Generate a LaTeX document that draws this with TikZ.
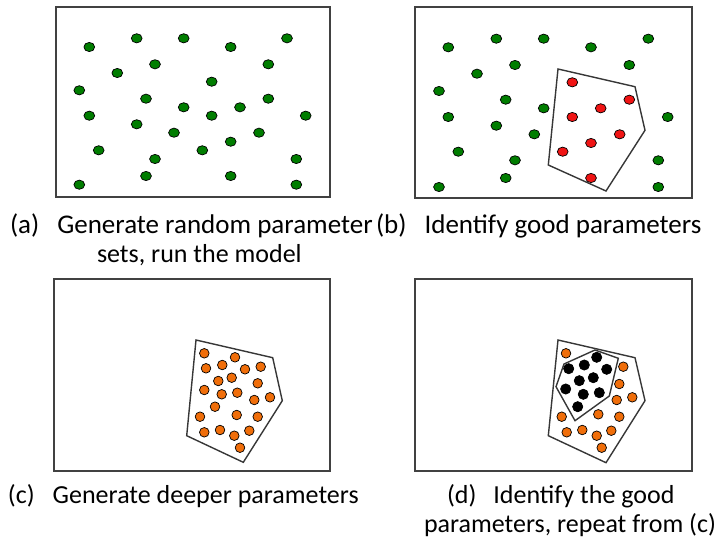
\documentclass[tikz,border=0pt]{standalone}
\usepackage{fontspec}
\setmainfont{Carlito}
\definecolor{gfill}{RGB}{0,125,0}
\definecolor{rfill}{RGB}{240,20,20}
\definecolor{ofill}{RGB}{240,110,10}
\definecolor{framec}{RGB}{65,65,65}
\definecolor{hullc}{RGB}{55,55,55}
\begin{document}
\begin{tikzpicture}[x=1pt,y=-1pt,
  frame/.style={draw=framec, line width=2pt},
  hull/.style={draw=hullc, line width=1.4pt, line join=miter},
  gdot/.style={fill=gfill, draw=black, line width=0.7pt},
  rdot/.style={fill=rfill, draw=black, line width=0.7pt},
  odot/.style={fill=ofill, draw=black, line width=0.7pt},
  bdot/.style={fill=black, draw=black, line width=0.7pt},
  lbl/.style={font=\fontsize{26}{30}\selectfont, anchor=base west, inner sep=0pt, outer sep=0pt},
  lblbig/.style={lbl, font=\fontsize{27}{30}\selectfont}]
\path[use as bounding box] (0,0) rectangle (715,543);
% frames
\draw[frame] (56,7.5) rectangle (330,197);
\draw[frame] (415,7.5) rectangle (692,198);
\draw[frame] (53.5,279) rectangle (329.5,471);
\draw[frame] (415,279) rectangle (692,471);
% panel a
\foreach \p in {(89.3,47),(136.7,38.3),(183.7,38.3),(230.7,47),(287,38.3),
(155,64.3),(117.3,73),(268.3,64.3),(79.3,90.3),(211.7,81.7),
(146,98.7),(268.3,98.7),(183.7,107.3),(240,107.3),
(89.3,115.7),(211.7,115.7),(305.7,115.7),
(136.7,124.3),(174,132.7),(259,132.7),(230.7,141.7),
(98.7,150.3),(202.3,150.3),(155,159),(296.3,159),
(146,176),(230.7,176),(79.3,184.7),(296.3,184.7)}
  \filldraw[gdot] \p ellipse [x radius=5.4pt, y radius=4.6pt];
% panel b
\draw[hull] (558,69) -- (635,86.7) -- (645,130.3) -- (606,191) -- (548.3,165) -- cycle;
\foreach \p in {(448.3,47.3),(496.3,38.7),(543.7,38.7),(591,47.3),(648.3,38.7),
(515,65),(477,73.7),(629.3,65),(439,91),(505.7,99.7),(543.7,108.3),
(448.3,117),(496.3,125.7),(534.3,134.3),(667.7,117),
(458.3,151.7),(515,160.3),(658.3,160.3),(505.7,178),(439,187),(658.3,187)}
  \filldraw[gdot] \p ellipse [x radius=5.4pt, y radius=4.6pt];
\foreach \p in {(572.3,82.3),(629.3,99.7),(600.7,108.3),(572.3,117),
(619.7,134.3),(591,143),(562.7,151.7),(591,178)}
  \filldraw[rdot] \p ellipse [x radius=5.4pt, y radius=4.6pt];
% panel c
\draw[hull] (196,340) -- (272.7,357.7) -- (282.3,400.7) -- (243.3,462.3) -- (186.7,435.7) -- cycle;
\foreach \p in {(204.3,353.3),(235,357.3),(206,368.3),(222.3,365),(245,369.3),(260.7,366.7),
(218.3,381),(231.7,377.7),(257.7,383.3),(204.3,390),(221.7,394.3),(237.3,392.7),
(254.3,400),(270,397.3),(215,406.7),(200,416.7),(236.7,415),(257.7,416.7),
(204.3,432.3),(220,430),(234.3,435.7),(249.3,430.7),(240,447.7)}
  \filldraw[odot] \p circle [radius=4.8pt];
% panel d
\draw[hull] (558,340) -- (635,357.7) -- (645,400.7) -- (606,462.7) -- (548.3,435.7) -- cycle;
\draw[hull] (564,364) -- (595,350) -- (618.3,358.3) -- (609.3,396) -- (575,420.7) -- (556,386.7) -- cycle;
\foreach \p in {(566,353.3),(623.3,366.7),(619.3,384),(616.7,400),(632.3,397.3),
(561.7,416.7),(598.3,414.3),(619.3,416.7),(566.7,432.3),(582.3,430),
(596.7,435.7),(611.3,430.7),(601.7,447.7)}
  \filldraw[odot] \p circle [radius=4.8pt];
\foreach \p in {(596.7,357.3),(568.7,368.7),(584.3,365),(606.7,369.3),(579.3,380.7),
(593.3,377.7),(565.7,389),(583.3,394.3),(599.3,392.7),(577.7,406.7)}
  \filldraw[bdot] \p circle [radius=5.1pt];
% captions
\node[lblbig] (la1) at (10,233) {(a)\hskip 18pt Generate random parameter};
\node[lbl] (la2) at (97,262) {sets, run the model};
\node[lblbig] (lb1) at (376,233) {(b)\hskip 18pt Identify good parameters};
\node[lbl] (lc1) at (8,503) {(c)\hskip 18pt Generate deeper parameters};
\node[lbl] (ld1) at (447,503) {(d)\hskip 17pt Identify the good};
\node[lbl] (ld2) at (424,532) {parameters, repeat from (c)};
\end{tikzpicture}
\end{document}
